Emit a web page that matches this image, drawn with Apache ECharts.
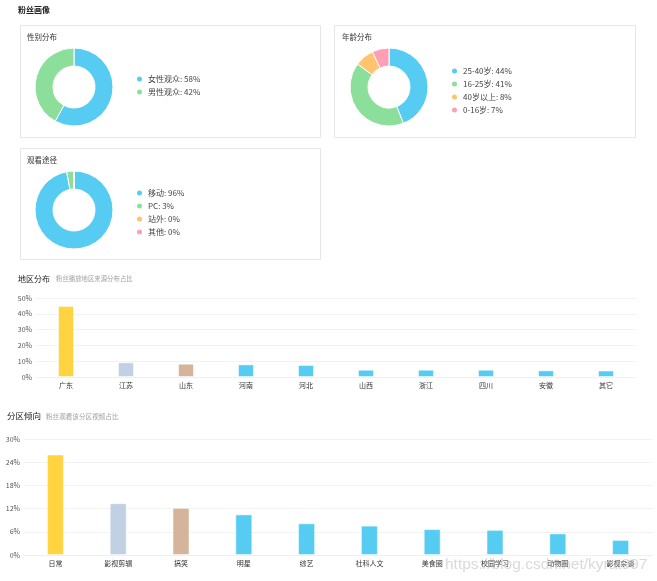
<!DOCTYPE html>
<html><head><meta charset="utf-8">
<script src="https://cdn.jsdelivr.net/npm/echarts@6/dist/echarts.min.js"></script>
<style>html,body{margin:0;padding:0;background:#fff}#c{width:657px;height:581px}</style>
</head><body><div id="c"></div>
<script>
var genderNames = ['女性观众', '男性观众'];
var genderValues = [58, 42];
var ageNames = ['25-40岁', '16-25岁', '40岁以上', '0-16岁'];
var ageValues = [44, 41, 8, 7];
var pathNames = ['移动', 'PC', '站外', '其他'];
var pathValues = [96, 3, 0, 0];
var regionNames = ['广东', '江苏', '山东', '河南', '河北', '山西', '浙江', '四川', '安徽', '其它'];
var regionValues = [45, 9.3, 8.4, 8.0, 7.6, 4.6, 4.6, 4.6, 4.2, 4.1];
var regionTicks = [0, 10, 20, 30, 40, 50];
var zoneNames = ['日常', '影视剪辑', '搞笑', '明星', '综艺', '社科人文', '美食圈', '校园学习', '动物圈', '影视杂谈'];
var zoneValues = [26.0, 13.4, 12.2, 10.5, 8.2, 7.6, 6.7, 6.5, 5.6, 3.9];
var zoneTicks = [0, 6, 12, 18, 24, 30];

var FONT = '"Noto Sans CJK SC", "Noto Sans", sans-serif';
var pieColors = ['#56CCF2', '#8CDF9B', '#FFC46E', '#FF9FB6'];
var barColors = ['#FFD440', '#C1D1E3', '#D4B59B', '#56CCF2'];

function pieData(names, values) {
  return names.map(function (n, i) { return { name: n, value: values[i], itemStyle: { color: pieColors[i] } }; });
}
function fmt(names, values) {
  return function (name) { return name + ': ' + values[names.indexOf(name)] + '%'; };
}
function barData(values) {
  return values.map(function (v, i) { return { value: v, itemStyle: { color: barColors[Math.min(i, 3)] } }; });
}
function legend(names, values, left, top) {
  return {
    data: names.map(function (n) { return { name: n, icon: 'circle' }; }),
    orient: 'vertical', left: left, top: top, itemWidth: 7, itemHeight: 7, itemGap: 4, padding: 0,
    selectedMode: false, formatter: fmt(names, values),
    textStyle: { fontSize: 8, color: '#444', fontFamily: FONT }
  };
}
function pie(names, values, cx, cy) {
  return {
    type: 'pie', center: [cx, cy], radius: [21, 39], startAngle: 90, clockwise: true,
    data: pieData(names, values), label: { show: false }, labelLine: { show: false },
    silent: true, animation: false,
    itemStyle: { borderColor: '#fff', borderWidth: 1 }
  };
}
function boxRect(x, y, w, h) {
  return { type: 'rect', shape: { x: x + 0.5, y: y + 0.5, width: w, height: h }, style: { fill: '#fff', stroke: '#e6e6e6', lineWidth: 1 }, z: -10 };
}
function txt(x, y, t, size, color, weight) {
  return { type: 'text', x: x, y: y, style: { text: t, fontSize: size, fill: color, fontFamily: FONT, fontWeight: weight || 'normal', verticalAlign: 'middle' } };
}
function valueAxis(gridIndex, ticks) {
  return {
    type: 'value', gridIndex: gridIndex, min: ticks[0], max: ticks[ticks.length - 1], interval: ticks[1] - ticks[0],
    axisLine: { show: false }, axisTick: { show: false },
    axisLabel: { formatter: '{value}%', fontSize: 7, color: '#555', fontFamily: FONT, margin: 4 },
    splitLine: { lineStyle: { color: '#f2f2f2', width: 1 } }
  };
}
function catAxis(gridIndex, names) {
  return {
    type: 'category', gridIndex: gridIndex, data: names,
    axisLine: { lineStyle: { color: '#f0f0f0' } }, axisTick: { show: false },
    axisLabel: { fontSize: 7, color: '#333', fontFamily: FONT, margin: 5, interval: 0 }
  };
}

var chart = echarts.init(document.getElementById('c'), null, { renderer: 'canvas' });
chart.setOption({
  animation: false,
  textStyle: { fontFamily: FONT },
  graphic: [
    boxRect(20, 25, 300, 112),
    boxRect(334, 25, 301, 112),
    boxRect(20, 148, 300, 111),
    txt(18, 10, '粉丝画像', 8, '#222', 'bold'),
    txt(27, 37, '性别分布', 7.5, '#333'),
    txt(342, 37, '年龄分布', 7.5, '#333'),
    txt(27, 160, '观看途径', 7.5, '#333'),
    txt(18, 279, '地区分布', 8, '#222'),
    txt(56, 279, '粉丝播放地区来源分布占比', 6.4, '#a0a0a0'),
    txt(7, 416, '分区倾向', 8.5, '#222'),
    txt(46, 416, '粉丝观看该分区视频占比', 6.6, '#a0a0a0'),
    { type: 'text', x: 445, y: 565, z: 100, style: { text: 'https://blog.csdn.net/kyrat997', fontSize: 15.5, fill: 'rgba(185,185,185,0.55)', fontFamily: '"Liberation Sans", Arial, sans-serif', verticalAlign: 'middle' } }
  ],
  legend: [
    legend(genderNames, genderValues, 135, 74.5),
    legend(ageNames, ageValues, 450, 66.5),
    legend(pathNames, pathValues, 135, 188.5)
  ],
  grid: [
    { left: 36, right: 21, top: 298, bottom: 204, containLabel: false },
    { left: 24, right: 5, top: 439, bottom: 26, containLabel: false }
  ],
  xAxis: [catAxis(0, regionNames), catAxis(1, zoneNames)],
  yAxis: [valueAxis(0, regionTicks), valueAxis(1, zoneTicks)],
  series: [
    pie(genderNames, genderValues, 74, 87),
    pie(ageNames, ageValues, 389, 87),
    pie(pathNames, pathValues, 74, 210),
    { type: 'bar', xAxisIndex: 0, yAxisIndex: 0, data: barData(regionValues), barWidth: 16, silent: true,
      itemStyle: { borderColor: 'rgba(255,255,255,0.5)', borderWidth: 1 } },
    { type: 'bar', xAxisIndex: 1, yAxisIndex: 1, data: barData(zoneValues), barWidth: 17, silent: true,
      itemStyle: { borderColor: 'rgba(255,255,255,0.5)', borderWidth: 1 } }
  ]
});
</script>
</body></html>
